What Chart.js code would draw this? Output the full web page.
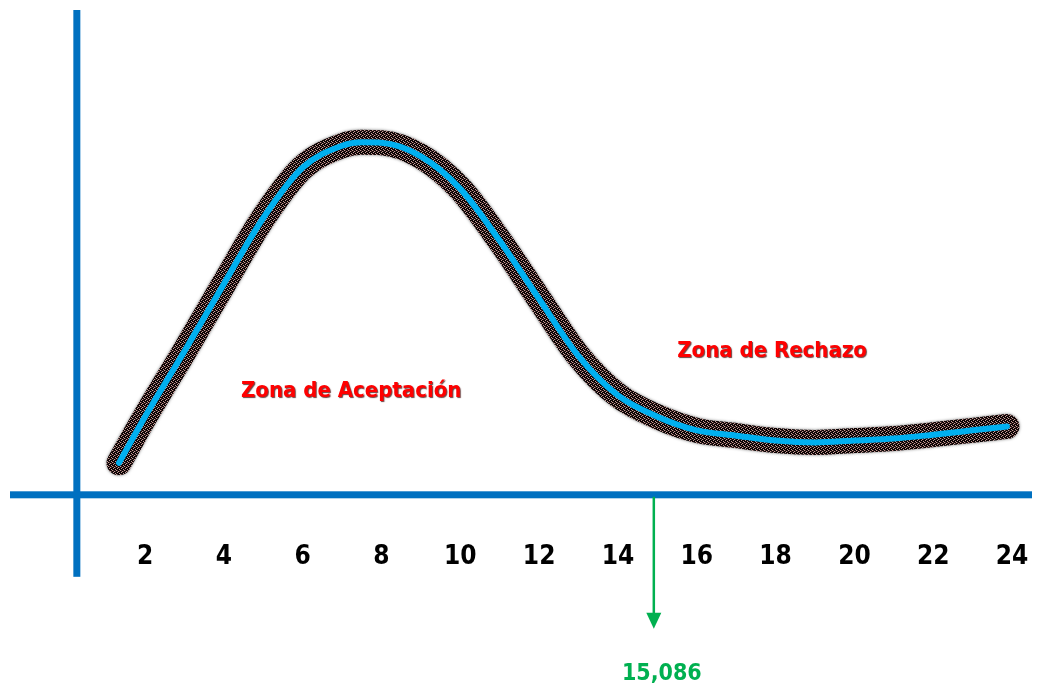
<!DOCTYPE html>
<html>
<head>
<meta charset="utf-8">
<script src="https://cdn.jsdelivr.net/npm/chart.js@4.4.1/dist/chart.umd.min.js"></script>
<style>
  html, body { margin: 0; padding: 0; background: #ffffff; overflow: hidden; }
  canvas { display: block; }
</style>
</head>
<body>
<canvas id="c" width="1039" height="686" style="width:1039px;height:686px"></canvas>
<script>
// ---- data ----
const xValues = [1.34, 2, 3, 4, 5, 6, 7, 7.5, 8, 9, 10, 11, 12, 13, 14, 15, 16, 17, 18, 19, 20, 21, 22, 23, 23.87];
const yValues = [6.6, 16.1, 29.6, 43.5, 57.1, 67.5, 72.0, 72.7, 72.6, 69.8, 63.1, 52.4, 40.4, 28.6, 20.5, 16.1, 13.3, 12.2, 11.2, 10.8, 11.2, 11.6, 12.4, 13.3, 14.1];
const tickValues = [2, 4, 6, 8, 10, 12, 14, 16, 18, 20, 22, 24];
const criticalLabel = "15,086";
const criticalX = 14.91;
const zoneLabels = ["Zona de Aceptación", "Zona de Rechazo"];
const zoneX = [7.23, 17.91];
const zoneY = [21.3, 29.6];
const verticalAxisX = 0.27;

const points = xValues.map((x, i) => ({ x: x, y: yValues[i] }));

// textured dark band pattern (style only)
function makePattern() {
  const pc = document.createElement('canvas');
  pc.width = 4; pc.height = 4;
  const p = pc.getContext('2d');
  p.fillStyle = '#0a0404';
  p.fillRect(0, 0, 4, 4);
  p.fillStyle = '#c99a96';
  [[1,0],[3,1],[0,2],[2,3]].forEach(([a,b]) => p.fillRect(a, b, 1, 1));
  p.fillStyle = '#4a2e2c';
  [[3,3],[1,2]].forEach(([a,b]) => p.fillRect(a, b, 1, 1));
  return document.getElementById('c').getContext('2d').createPattern(pc, 'repeat');
}

const FONT = "'DejaVu Sans Condensed', 'DejaVu Sans', sans-serif";

const overlay = {
  id: 'overlay',
  beforeDatasetDraw(chart, args) {
    if (args.index === 1) {
      const ctx = chart.ctx;
      ctx.save();
      ctx.shadowColor = 'rgba(0,0,0,0.5)';
      ctx.shadowBlur = 3;
    }
  },
  afterDatasetDraw(chart, args) {
    if (args.index === 1) chart.ctx.restore();
  },
  beforeDatasetsDraw(chart) {
    const ctx = chart.ctx;
    const xs = chart.scales.x, ys = chart.scales.y;
    const y0 = ys.getPixelForValue(0);
    const ax = xs.getPixelForValue(verticalAxisX);
    ctx.save();
    ctx.fillStyle = '#0070C0';
    ctx.fillRect(ax - 3.5, chart.chartArea.top, 7, (y0 - chart.chartArea.top) + 82);
    ctx.fillRect(chart.chartArea.left, y0 - 3.5, chart.chartArea.right - chart.chartArea.left, 7);
    ctx.restore();
  },
  afterDraw(chart) {
    const ctx = chart.ctx;
    const xs = chart.scales.x, ys = chart.scales.y;
    const y0 = ys.getPixelForValue(0);
    ctx.save();
    ctx.font = "bold 22px " + FONT;
    ctx.textAlign = 'center';
    ctx.textBaseline = 'middle';
    ctx.shadowColor = 'rgba(60,0,0,0.75)';
    ctx.shadowOffsetX = 1;
    ctx.shadowOffsetY = 1;
    ctx.shadowBlur = 1;
    ctx.fillStyle = '#FF0000';
    zoneLabels.forEach((t, i) => {
      ctx.fillText(t, xs.getPixelForValue(zoneX[i]), ys.getPixelForValue(zoneY[i]));
    });
    ctx.restore();

    ctx.save();
    const gx = xs.getPixelForValue(criticalX);
    ctx.strokeStyle = '#00B050';
    ctx.fillStyle = '#00B050';
    ctx.lineWidth = 2.5;
    ctx.beginPath();
    ctx.moveTo(gx, y0 + 2);
    ctx.lineTo(gx, y0 + 121);
    ctx.stroke();
    ctx.beginPath();
    ctx.moveTo(gx - 7.5, y0 + 118);
    ctx.lineTo(gx + 7.5, y0 + 118);
    ctx.lineTo(gx, y0 + 134);
    ctx.closePath();
    ctx.fill();
    ctx.font = "bold 23px " + FONT;
    ctx.textAlign = 'center';
    ctx.textBaseline = 'middle';
    ctx.fillText(criticalLabel, gx + 8, y0 + 179);
    ctx.restore();
  }
};

new Chart(document.getElementById('c'), {
  type: 'line',
  data: {
    datasets: [
      {
        data: points,
        borderColor: '#00B0F0',
        borderWidth: 6,
        pointRadius: 0,
        cubicInterpolationMode: 'monotone',
        borderCapStyle: 'round',
        borderJoinStyle: 'round',
        fill: false
      },
      {
        data: points,
        borderColor: makePattern(),
        borderWidth: 25,
        pointRadius: 0,
        cubicInterpolationMode: 'monotone',
        borderCapStyle: 'round',
        borderJoinStyle: 'round',
        fill: false
      }
    ]
  },
  options: {
    responsive: false,
    maintainAspectRatio: false,
    devicePixelRatio: 1,
    animation: false,
    events: [],
    layout: { padding: { left: 10, right: 7, top: 10, bottom: 66 } },
    plugins: { legend: { display: false }, tooltip: { enabled: false } },
    scales: {
      x: {
        type: 'linear',
        min: -1.426,
        max: 24.506,
        grid: { display: false, drawTicks: false },
        border: { display: false },
        afterBuildTicks(scale) { scale.ticks = tickValues.map(v => ({ value: v })); },
        afterFit(scale) { scale.paddingLeft = 0; scale.paddingRight = 0; },
        ticks: {
          padding: 47,
          autoSkip: false,
          maxRotation: 0,
          color: '#000000',
          font: { family: FONT, size: 26, weight: 'bold' },
          callback: (v) => String(v)
        }
      },
      y: {
        display: false,
        min: 0,
        max: 100
      }
    }
  },
  plugins: [overlay]
});
</script>
</body>
</html>
